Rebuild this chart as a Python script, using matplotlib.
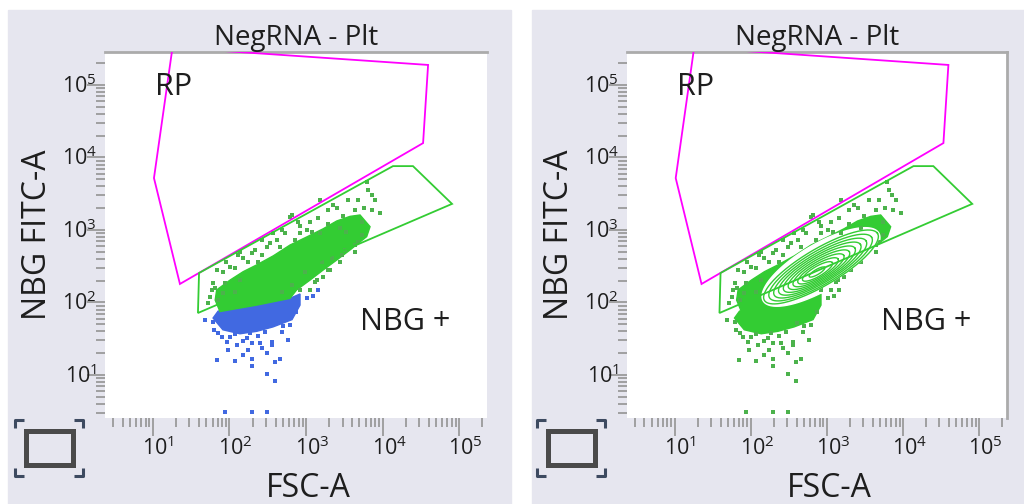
import numpy as np
import matplotlib
matplotlib.use('Agg')
import matplotlib.pyplot as plt
from matplotlib.patches import Rectangle, Polygon
from matplotlib.transforms import ScaledTranslation, blended_transform_factory

plt.rcParams['font.family'] = ['Open Sans', 'DejaVu Sans']
plt.rcParams['mathtext.fontset'] = 'custom'
plt.rcParams['mathtext.rm'] = 'Open Sans'

# Gate RP (magenta) e NBG + (verde)
rp_fsc = [18, 39400, 33900, 22.5, 10.3]
rp_nbg = [3.29e5, 1.89e5, 1.58e4, 180, 5200]
gate_fsc = [38.7, 40, 13700, 25000, 81000]
gate_nbg = [71.6, 255, 7600, 7600, 2290]

# Nuvola densa degli eventi NBG+
dense_fsc = [68, 102, 151, 227, 374, 618, 1020, 1680, 2520, 3760, 5080, 6870, 6210,
             3760, 2520, 1680, 1130, 755, 618, 227, 75, 65]
dense_nbg = [149, 204, 266, 330, 440, 620, 800, 1040, 1330, 1540, 1610, 1110, 810,
             530, 385, 281, 204, 149, 114, 92, 75, 108]

# Nuvola densa degli eventi negativi (blu)
blue_fsc = [71, 227, 618, 835, 835, 656, 370, 227, 137, 82, 61]
blue_nbg = [76, 92, 114, 131, 92, 58, 46, 40, 37, 42, 61]

# Eventi sparsi
green_dot_fsc = [650, 1940, 2520, 6460, 7230, 9270, 6210, 4790, 1520, 1020, 835, 414, 306, 195,
                 150, 129, 102, 82, 68, 61, 65, 56, 82, 52, 137, 1670, 1380, 2060, 2930, 1130,
                 370, 618, 1520, 3340, 4380, 5400, 236, 485, 785, 118,
                 118, 175, 266, 457, 718, 1200, 1940, 3050, 4380, 5730, 4380, 2780, 1940, 1310, 835,
                 90, 137, 215, 338, 531, 835, 1440, 2250, 3540, 7980, 7290, 5400, 4790, 3240, 2190,
                 1620, 970, 656, 485, 71, 59, 87, 266, 1130, 2780]
green_dot_nbg = [1610, 1890, 2010, 3560, 3040, 1710, 4640, 2590, 910, 1000, 910, 728, 589, 482,
                 411, 452, 312, 266, 281, 186, 158, 120, 135, 98, 204, 227, 204, 281, 452, 149,
                 910, 1520, 2590, 937, 620, 1290, 362, 1000, 1290, 140,
                 299, 362, 452, 583, 728, 937, 1210, 1560, 1890, 2010, 498, 362, 281, 192, 149,
                 362, 498, 530, 662, 910, 1135, 1470, 2210, 2590, 2590, 1890, 853, 682, 530, 411,
                 362, 264, 174, 140, 108, 149, 186, 728, 1290, 1067]
blue_dot_fsc = [71, 93, 102, 169, 185, 197, 250, 360, 360, 309, 175, 125, 69, 118, 197, 393, 457,
                309, 393, 87, 197, 309, 61, 1030, 1240, 1440, 618, 405,
                63, 80, 118, 150, 236, 291, 485, 582, 266, 150, 95, 500, 740, 48, 197]
blue_dot_nbg = [38, 28.5, 33, 32, 38, 27.6, 27.6, 28.5, 26, 20, 22, 26, 16, 15.6, 16.6, 15.1, 16.6,
                10.3, 8.3, 3.1, 3.1, 3.1, 54, 115, 123, 149, 49, 52,
                41.8, 33.4, 36.8, 29.4, 34.5, 39.2, 39.2, 30.4, 23.6, 18.9, 22.1, 47.4, 74, 57.4, 13.3]

# Livelli del contour plot (semiassi in decadi, centro in unita' lineari)
ring_a = [0.875, 0.79, 0.71, 0.63, 0.55, 0.47, 0.39, 0.31, 0.23, 0.12]
ring_b = [0.25, 0.225, 0.20, 0.178, 0.156, 0.134, 0.112, 0.09, 0.068, 0.035]
ring_cx = [835, 825, 815, 805, 795, 785, 775, 764, 752, 740]
ring_cy = [309, 303, 298, 293, 288, 283, 278, 273, 268, 263]
ring_angle = 32

PANEL = '#E6E6EF'
GREEN = '#33CC33'
DOT_GREEN = '#4CB24C'
BLUE = '#4169E1'
MAGENTA = '#FF00FF'
TXT = '#1E1E1E'
MS = 2.3


def disegna_icona(bg, x0):
    bg.add_patch(Rectangle((x0 + 25.5, 430.5), 47, 34, fill=False, lw=3.6, ec='#4A4A4A'))
    c = '#3D4A60'
    for (x, y, dx, dy) in [(x0 + 15, 420, 1, 1), (x0 + 83, 420, -1, 1),
                           (x0 + 15, 476, 1, -1), (x0 + 83, 476, -1, -1)]:
        bg.plot([x, x, x + 9 * dx], [y + 8 * dy, y, y], color=c, lw=2.2, solid_capstyle='butt')


def ellisse(a, b, cx, cy, ang):
    t = np.linspace(0, 2 * np.pi, 240)
    th = np.deg2rad(ang)
    lx = np.log10(cx) + a * np.cos(t) * np.cos(th) - b * np.sin(t) * np.sin(th)
    ly = np.log10(cy) + a * np.cos(t) * np.sin(th) + b * np.sin(t) * np.cos(th)
    return 10 ** lx, 10 ** ly


def disegna_pannello(fig, ax, contour=False, bordo_destro=False):
    ax.set_xscale('log')
    ax.set_yscale('log')
    ax.set_xlim(2.36, 2.32e5)
    ax.set_ylim(2.55, 2.85e5)
    ax.set_facecolor('white')

    for s in ['left', 'bottom']:
        ax.spines[s].set_visible(False)
    ax.spines['right'].set_visible(bordo_destro)
    for s in ['top', 'right']:
        ax.spines[s].set_color('#ABABAB')
        ax.spines[s].set_linewidth(2)

    ax.tick_params(which='both', direction='out', color='#A0A0A0', width=1.4,
                   labelbottom=False, labelleft=False, top=False, right=False)
    ax.tick_params(which='major', length=13)
    ax.tick_params(which='minor', length=6.5)
    ax.xaxis.set_major_locator(matplotlib.ticker.LogLocator(base=10, numticks=10))
    ax.xaxis.set_minor_locator(matplotlib.ticker.LogLocator(base=10, subs=np.arange(2, 10), numticks=20))
    ax.yaxis.set_major_locator(matplotlib.ticker.LogLocator(base=10, numticks=10))
    ax.yaxis.set_minor_locator(matplotlib.ticker.LogLocator(base=10, subs=np.arange(2, 10), numticks=20))

    # etichette dei tick
    tx = blended_transform_factory(ax.transData, ax.transAxes)
    ty = blended_transform_factory(ax.transAxes, ax.transData)
    for n in range(1, 6):
        lab = r'$\mathregular{10^{%d}}$' % n
        ax.text(10 ** n, -0.101, lab, ha='left', va='baseline', fontsize=15.5, color=TXT,
                transform=tx + ScaledTranslation(-0.11, 0, fig.dpi_scale_trans))
        ax.text(-0.021, 10 ** n, lab, ha='right', va='baseline', fontsize=15.5, color=TXT,
                transform=ty + ScaledTranslation(0, -0.08, fig.dpi_scale_trans))

    # eventi
    if contour:
        ax.add_patch(Polygon(np.column_stack([dense_fsc, dense_nbg]), closed=True,
                             fc=GREEN, ec=GREEN, lw=1, zorder=2))
        ax.add_patch(Polygon(np.column_stack([blue_fsc, blue_nbg]), closed=True,
                             fc=GREEN, ec=GREEN, lw=1, zorder=2))
        # margine bianco attorno al contour piu' esterno
        xs, ys = ellisse(ring_a[0] * 1.02, ring_b[0] * 1.25, ring_cx[0], ring_cy[0], ring_angle)
        ax.fill(xs, ys, color='white', zorder=3)
        ax.plot(green_dot_fsc + blue_dot_fsc, green_dot_nbg + blue_dot_nbg, 's', ms=MS,
                mew=0, color=DOT_GREEN, zorder=3.5)
        xs, ys = ellisse(ring_a[0], ring_b[0], ring_cx[0], ring_cy[0], ring_angle)
        ax.fill(xs, ys, color='white', zorder=3.6)
        for a, b, cx, cy in zip(ring_a, ring_b, ring_cx, ring_cy):
            xs, ys = ellisse(a, b, cx, cy, ring_angle)
            ax.plot(xs, ys, color=GREEN, lw=1.0, zorder=4)
    else:
        ax.add_patch(Polygon(np.column_stack([blue_fsc, blue_nbg]), closed=True,
                             fc=BLUE, ec=BLUE, lw=1, zorder=2))
        ax.plot(blue_dot_fsc, blue_dot_nbg, 's', ms=MS, mew=0, color=BLUE, zorder=2)
        ax.add_patch(Polygon(np.column_stack([dense_fsc, dense_nbg]), closed=True,
                             fc=GREEN, ec=GREEN, lw=1, zorder=2))
        ax.plot(green_dot_fsc, green_dot_nbg, 's', ms=MS, mew=0, color=DOT_GREEN, zorder=2)

    # gate
    ax.add_patch(Polygon(np.column_stack([rp_fsc, rp_nbg]), closed=True, fill=False,
                         ec=MAGENTA, lw=1.3, zorder=5))
    ax.add_patch(Polygon(np.column_stack([gate_fsc, gate_nbg]), closed=True, fill=False,
                         ec=GREEN, lw=1.3, zorder=5))
    ax.text(18.5, 7.3e4, 'RP', ha='center', va='baseline', fontsize=22, color=TXT, zorder=6)
    ax.text(2.0e4, 41.8, 'NBG +', ha='center', va='baseline', fontsize=22, color=TXT, zorder=6)

    ax.text(0.5, 1.019, 'NegRNA - Plt', ha='center', va='baseline', fontsize=20,
            color=TXT, transform=ax.transAxes)
    ax.text(0.533, -0.216, 'FSC-A', ha='center', va='baseline', fontsize=23,
            color=TXT, transform=ax.transAxes)
    ax.text(-0.177, 0.5, 'NBG FITC-A', ha='center', va='center', rotation=90, fontsize=23,
            color=TXT, transform=ax.transAxes)


def main():
    fig = plt.figure(figsize=(10.24, 5.04), dpi=100)
    bg = fig.add_axes([0, 0, 1, 1], zorder=-5)
    bg.set_xlim(0, 1024)
    bg.set_ylim(504, 0)
    bg.axis('off')
    bg.add_patch(Rectangle((8, 10), 503, 494, color=PANEL))
    bg.add_patch(Rectangle((532, 10), 492, 494, color=PANEL))
    disegna_icona(bg, 0)
    disegna_icona(bg, 522)

    ax1 = fig.add_axes([105 / 1024, 86 / 504, 382 / 1024, 366 / 504])
    ax2 = fig.add_axes([627 / 1024, 86 / 504, 380 / 1024, 366 / 504])
    disegna_pannello(fig, ax1, contour=False, bordo_destro=False)
    disegna_pannello(fig, ax2, contour=True, bordo_destro=True)

    fig.savefig('out.png', dpi=100)
    plt.close(fig)


if __name__ == '__main__':
    main()
